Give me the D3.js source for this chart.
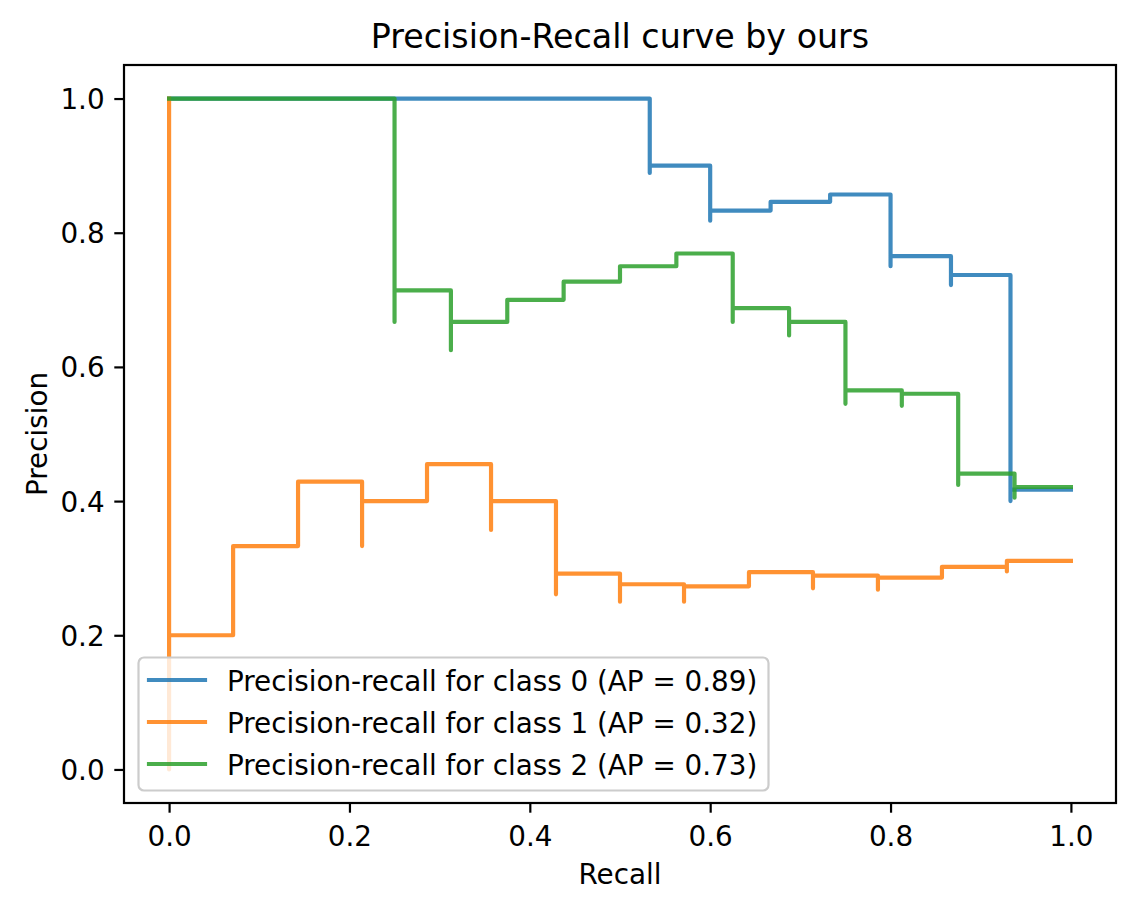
<!DOCTYPE html>
<html>
<head>
<meta charset="utf-8">
<script src="https://cdn.jsdelivr.net/npm/d3@7"></script>
<style>
  html, body { margin: 0; padding: 0; background: #fff; }
  svg { display: block; font-family: "DejaVu Sans", sans-serif; }
</style>
</head>
<body>
<svg id="chart" width="1134" height="898"></svg>
<script>
// ---- data (sklearn-style precision/recall points, recall descending) ----
const recall0    = [1.0, 0.933, 0.933, 0.867, 0.867, 0.8, 0.8, 0.733, 0.667, 0.6, 0.6, 0.533, 0.533, 0.0];
const precision0 = [0.417, 0.4, 0.737, 0.722, 0.765, 0.75, 0.857, 0.846, 0.833, 0.818, 0.9, 0.889, 1.0, 1.0];

const recall1    = [1.0, 0.929, 0.929, 0.857, 0.786, 0.786, 0.714, 0.714, 0.643, 0.571, 0.571, 0.5, 0.5,
                    0.429, 0.429, 0.357, 0.357, 0.286, 0.214, 0.214, 0.143, 0.071, 0.0, 0.0];
const precision1 = [0.311, 0.295, 0.302, 0.286, 0.268, 0.289, 0.270, 0.294, 0.273, 0.25, 0.276, 0.25, 0.292,
                    0.261, 0.4, 0.357, 0.455, 0.4, 0.333, 0.429, 0.333, 0.2, 0.0, 1.0];

const recall2    = [1.0, 0.9375, 0.9375, 0.875, 0.875, 0.8125, 0.8125, 0.75, 0.75, 0.6875, 0.6875, 0.625, 0.625,
                    0.5625, 0.5, 0.4375, 0.375, 0.3125, 0.3125, 0.25, 0.25, 0.0];
const precision2 = [0.421, 0.405, 0.441, 0.424, 0.56, 0.542, 0.565, 0.545, 0.667, 0.647, 0.6875, 0.667, 0.769,
                    0.75, 0.727, 0.7, 0.667, 0.625, 0.714, 0.667, 1.0, 1.0];

const seriesLabels = [
  "Precision-recall for class 0 (AP = 0.89)",
  "Precision-recall for class 1 (AP = 0.32)",
  "Precision-recall for class 2 (AP = 0.73)"
];
const seriesColors = ["#1f77b4", "#ff7f0e", "#2ca02c"];
const xTicks = [0.0, 0.2, 0.4, 0.6, 0.8, 1.0];
const yTicks = [0.0, 0.2, 0.4, 0.6, 0.8, 1.0];
const titleText = "Precision-Recall curve by ours";
const xLabel = "Recall";
const yLabel = "Precision";

// ---- layout ----
const svg = d3.select("#chart");
const L = 124, R = 1116, T = 65, B = 803;
const FS = 27.8;     // 10pt @ 200dpi
const TFS = 33.3;    // 12pt @ 200dpi
const LW = 4.17;     // 1.5pt
const SW = 2.2;      // 0.8pt
const TL = 9.7;      // 3.5pt

const x = d3.scaleLinear().domain([-0.05, 1.05]).range([L, R]);
const y = d3.scaleLinear().domain([-0.05, 1.05]).range([B, T]);

const series = [
  {r: recall0, p: precision0},
  {r: recall1, p: precision1},
  {r: recall2, p: precision2}
];

const line = d3.line()
  .x(d => x(d[0]))
  .y(d => y(d[1]))
  .curve(d3.curveStepAfter);

const gLines = svg.append("g");
series.forEach((s, i) => {
  const pts = s.r.map((rv, k) => [rv, s.p[k]]);
  gLines.append("path")
    .datum(pts)
    .attr("d", line)
    .attr("fill", "none")
    .attr("stroke", seriesColors[i])
    .attr("stroke-opacity", 0.85)
    .attr("stroke-width", LW)
    .attr("stroke-linejoin", "round")
    .attr("stroke-linecap", "square");
});

// ---- axes ----
const fmt = d3.format(".1f");
const xAxis = svg.append("g")
  .attr("transform", `translate(0,${B})`)
  .call(d3.axisBottom(x).tickValues(xTicks).tickFormat(fmt).tickSize(TL).tickPadding(TL));
const yAxis = svg.append("g")
  .attr("transform", `translate(${L},0)`)
  .call(d3.axisLeft(y).tickValues(yTicks).tickFormat(fmt).tickSize(TL).tickPadding(TL));

[xAxis, yAxis].forEach(g => {
  g.select(".domain").remove();
  g.selectAll(".tick line").attr("stroke", "#000").attr("stroke-width", SW);
  g.selectAll(".tick text")
    .attr("fill", "#000")
    .style("font-family", "DejaVu Sans")
    .style("font-size", FS + "px");
});
xAxis.selectAll(".tick text").attr("dy", null).attr("y", 43);
yAxis.selectAll(".tick text").attr("dy", "0.36em");

// spines
svg.append("rect")
  .attr("x", L).attr("y", T)
  .attr("width", R - L).attr("height", B - T)
  .attr("fill", "none")
  .attr("stroke", "#000")
  .attr("stroke-width", SW)
  .attr("stroke-linejoin", "miter");

// ---- title and labels ----
svg.append("text")
  .attr("x", (L + R) / 2).attr("y", 48)
  .attr("text-anchor", "middle")
  .style("font-size", TFS + "px")
  .text(titleText);

svg.append("text")
  .attr("x", (L + R) / 2).attr("y", 884)
  .attr("text-anchor", "middle")
  .style("font-size", FS + "px")
  .text(xLabel);

svg.append("text")
  .attr("transform", `translate(47,${(T + B) / 2}) rotate(-90)`)
  .attr("text-anchor", "middle")
  .style("font-size", FS + "px")
  .text(yLabel);

// ---- legend ----
const legend = svg.append("g");
legend.append("rect")
  .attr("x", 138.5).attr("y", 657.5)
  .attr("width", 630).attr("height", 133)
  .attr("rx", 5.5).attr("ry", 5.5)
  .attr("fill", "#fff")
  .attr("fill-opacity", 0.8)
  .attr("stroke", "#cccccc")
  .attr("stroke-width", 2.2);

const rowY = d3.scalePoint().domain([0, 1, 2]).range([680, 764]);
seriesLabels.forEach((lab, i) => {
  const cy = rowY(i);
  legend.append("line")
    .attr("x1", 149).attr("x2", 205)
    .attr("y1", cy).attr("y2", cy)
    .attr("stroke", seriesColors[i])
    .attr("stroke-opacity", 0.85)
    .attr("stroke-width", LW)
    .attr("stroke-linecap", "square");
  legend.append("text")
    .attr("x", 227).attr("y", cy + 10.5)
    .style("font-size", FS + "px")
    .text(lab);
});
</script>
</body>
</html>
